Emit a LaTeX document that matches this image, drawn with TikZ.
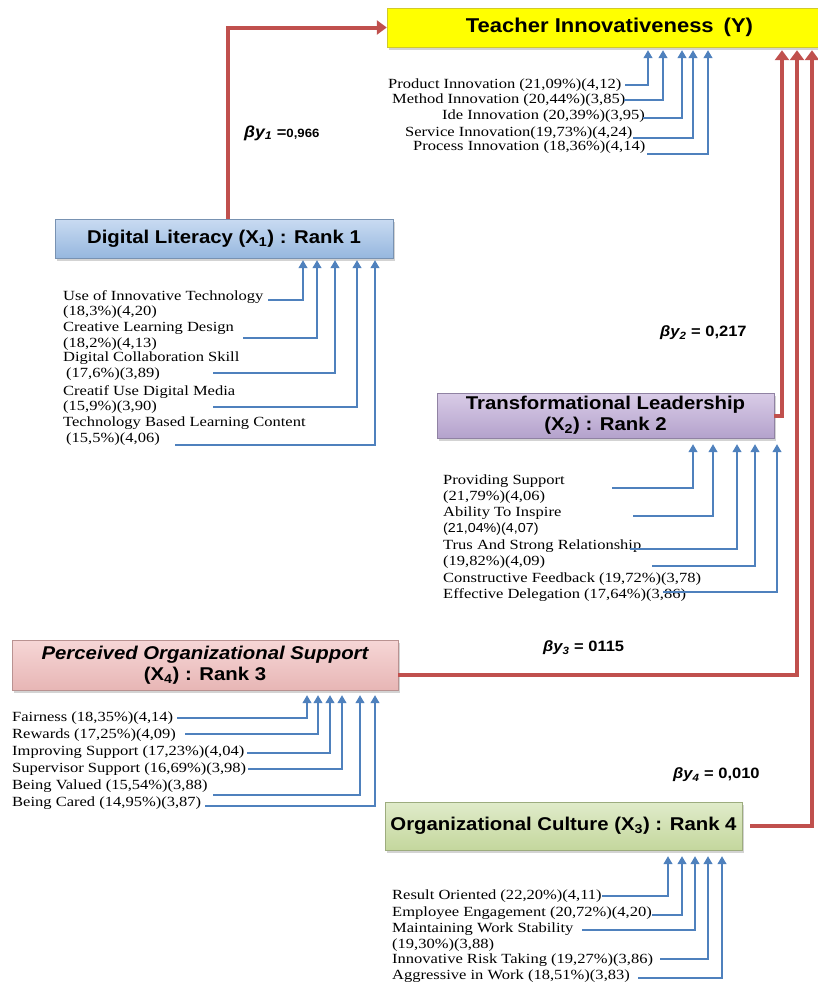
\documentclass[tikz,border=0pt]{standalone}
\usepackage{fontspec}
\setmainfont{Liberation Serif}[FakeStretch=1.18]
\setsansfont{Liberation Sans}[FakeStretch=1.1]
\usetikzlibrary{arrows.meta,shadows}

\definecolor{pathred}{RGB}{192,80,77}
\definecolor{indblue}{RGB}{79,129,189}
\definecolor{dltop}{RGB}{201,219,242}
\definecolor{dlbot}{RGB}{150,183,222}
\definecolor{tltop}{RGB}{217,204,231}
\definecolor{tlbot}{RGB}{180,162,204}
\definecolor{postop}{RGB}{246,214,214}
\definecolor{posbot}{RGB}{231,182,181}
\definecolor{octop}{RGB}{224,235,202}
\definecolor{ocbot}{RGB}{196,215,157}

\newcommand{\indfont}{\rmfamily\fontsize{14}{15.6}\selectfont}
\newcommand{\varfont}{\sffamily\bfseries\fontsize{18.5}{21}\selectfont}

\begin{document}
\begin{tikzpicture}[x=1pt,y=-1pt,
  var/.style 2 args={draw=#2!80!black, line width=0.4pt, top color=#1,
    bottom color=#2, inner sep=0pt, align=center, font=\varfont,
    drop shadow={opacity=0.35, shadow xshift=2pt, shadow yshift=-3pt}},
  indtext/.style={anchor=north west, inner sep=0pt, align=left, font=\indfont},
  effect/.style={pathred, line width=4pt, -{Triangle[width=14pt,length=10pt]}},
  loading/.style={indblue, line width=1.2pt, -{Triangle[width=9pt,length=8pt]}},
  coef/.style={anchor=west, inner sep=0pt, font=\sffamily\bfseries\fontsize{15}{18}\selectfont}]
\useasboundingbox (0,0) rectangle (817,983);

% The variables
\node[var={yellow}{yellow}, minimum width=445pt, minimum height=39pt] (Y)
  at (609.5,27.5) {\fontsize{20}{24}\selectfont Teacher Innovativeness\enspace(Y)};
\node[var={dltop}{dlbot}, minimum width=338pt, minimum height=39pt] (DL)
  at (224,238.5) {Digital Literacy (X\textsubscript{1}) : Rank 1};
\node[var={tltop}{tlbot}, minimum width=337pt, minimum height=45pt] (TL)
  at (605.5,415.5) {Transformational Leadership\\(X\textsubscript{2}) : Rank 2};
\node[var={postop}{posbot}, minimum width=386pt, minimum height=50pt] (POS)
  at (205,665) {{\itshape Perceived Organizational Support}\\(X\textsubscript{4}) : Rank 3};
\node[var={octop}{ocbot}, minimum width=357pt, minimum height=48pt] (OC)
  at (563.5,826) {Organizational Culture (X\textsubscript{3}) : Rank 4};

% Path coefficients
\node[coef] (b1) at (244,133) {{\fontsize{16}{18}\selectfont\itshape βy\textsubscript{1}} =\fontsize{12}{14}\selectfont 0,966};
\node[coef] (b2) at (660,333) {{\itshape βy\textsubscript{2}} = 0,217};
\node[coef] (b3) at (543,648) {{\itshape βy\textsubscript{3}} = 0115};
\node[coef] (b4) at (673,775) {{\itshape βy\textsubscript{4}} = 0,010};

% Paths into Teacher Innovativeness
\draw[effect] ([xshift=4pt]DL.north) |- (Y.west);
\draw[effect] (TL.east) -| ([yshift=-3pt]782,0 |- Y.south);
\draw[effect] ([yshift=-10pt]POS.east) -| ([yshift=-3pt]797,0 |- Y.south);
\draw[effect] ([xshift=8pt]OC.east) -| ([yshift=-3pt]812,0 |- Y.south);

% Indicators of Y
\node[indtext] (y1) at (388,79) {Product Innovation (21,09\%)(4,12)};
\node[indtext] (y2) at (392,94) {Method Innovation (20,44\%)(3,85)};
\node[indtext] (y3) at (442,110) {Ide Innovation (20,39\%)(3,95)};
\node[indtext] (y4) at (405,127) {Service Innovation(19,73\%)(4,24)};
\node[indtext] (y5) at (413,141) {Process Innovation (18,36\%)(4,14)};
\coordinate (y1s) at (625,85);
\coordinate (y2s) at (624,100);
\coordinate (y3s) at (643,118);
\coordinate (y4s) at (633,138);
\coordinate (y5s) at (647,154);
\draw[loading] (y1s) -| ([yshift=-3pt]648,0 |- Y.south);
\draw[loading] (y2s) -| ([yshift=-3pt]663,0 |- Y.south);
\draw[loading] (y3s) -| ([yshift=-3pt]682,0 |- Y.south);
\draw[loading] (y4s) -| ([yshift=-3pt]693,0 |- Y.south);
\draw[loading] (y5s) -| ([yshift=-3pt]708,0 |- Y.south);

% Indicators of Digital Literacy
\node[indtext] (d1) at (63,290) {Use of Innovative Technology\\(18,3\%)(4,20)};
\node[indtext] (d2) at (63,322) {Creative Learning Design\\(18,2\%)(4,13)};
\node[indtext] (d3) at (63,352) {Digital Collaboration Skill\\\hspace*{3pt}(17,6\%)(3,89)};
\node[indtext] (d4) at (63,385) {Creatif Use Digital Media\\(15,9\%)(3,90)};
\node[indtext] (d5) at (63,417) {Technology Based Learning Content\\\hspace*{3pt}(15,5\%)(4,06)};
\coordinate (d1s) at (268,300);
\coordinate (d2s) at (243,338);
\coordinate (d3s) at (213,373);
\coordinate (d4s) at (213,407);
\coordinate (d5s) at (175,445);
\draw[loading] (d1s) -| ([yshift=-2pt]303,0 |- DL.south);
\draw[loading] (d2s) -| ([yshift=-2pt]317,0 |- DL.south);
\draw[loading] (d3s) -| ([yshift=-2pt]335,0 |- DL.south);
\draw[loading] (d4s) -| ([yshift=-2pt]357,0 |- DL.south);
\draw[loading] (d5s) -| ([yshift=-2pt]375,0 |- DL.south);

% Indicators of Transformational Leadership
\node[indtext] (t1) at (443,475) {Providing Support\\(21,79\%)(4,06)};
\node[indtext] (t2) at (443,507) {Ability To Inspire\\{\sffamily\fontsize{13}{15.6}\selectfont(21,04\%)(4,07)}};
\node[indtext] (t3) at (443,540) {Trus And Strong Relationship\\(19,82\%)(4,09)};
\node[indtext] (t4) at (443,573) {Constructive Feedback (19,72\%)(3,78)};
\node[indtext] (t5) at (443,588) {Effective Delegation (17,64\%)(3,86)};
\coordinate (t1s) at (612,488);
\coordinate (t2s) at (633,516);
\coordinate (t3s) at (630,549);
\coordinate (t4s) at (652,566);
\coordinate (t5s) at (663,592);
\draw[loading] (t1s) -| ([yshift=-6pt]693,0 |- TL.south);
\draw[loading] (t2s) -| ([yshift=-6pt]713,0 |- TL.south);
\draw[loading] (t3s) -| ([yshift=-6pt]737,0 |- TL.south);
\draw[loading] (t4s) -| ([yshift=-6pt]755,0 |- TL.south);
\draw[loading] (t5s) -| ([yshift=-6pt]777,0 |- TL.south);

% Indicators of Perceived Organizational Support
\node[indtext] (p1) at (12,712) {Fairness (18,35\%)(4,14)};
\node[indtext] (p2) at (12,729) {Rewards (17,25\%)(4,09)};
\node[indtext] (p3) at (12,746) {Improving Support (17,23\%)(4,04)};
\node[indtext] (p4) at (12,763) {Supervisor Support (16,69\%)(3,98)};
\node[indtext] (p5) at (12,780) {Being Valued (15,54\%)(3,88)};
\node[indtext] (p6) at (12,797) {Being Cared (14,95\%)(3,87)};
\coordinate (p1s) at (177,718);
\coordinate (p2s) at (185,734);
\coordinate (p3s) at (247,753);
\coordinate (p4s) at (248,769);
\coordinate (p5s) at (213,795);
\coordinate (p6s) at (205,806);
\draw[loading] (p1s) -| ([yshift=-5pt]307,0 |- POS.south);
\draw[loading] (p2s) -| ([yshift=-5pt]318,0 |- POS.south);
\draw[loading] (p3s) -| ([yshift=-5pt]330,0 |- POS.south);
\draw[loading] (p4s) -| ([yshift=-5pt]342,0 |- POS.south);
\draw[loading] (p5s) -| ([yshift=-5pt]360,0 |- POS.south);
\draw[loading] (p6s) -| ([yshift=-5pt]375,0 |- POS.south);

% Indicators of Organizational Culture
\node[indtext] (o1) at (392,890) {Result Oriented (22,20\%)(4,11)};
\node[indtext] (o2) at (392,907) {Employee Engagement (20,72\%)(4,20)};
\node[indtext] (o3) at (392,923) {Maintaining Work Stability\\(19,30\%)(3,88)};
\node[indtext] (o4) at (392,954) {Innovative Risk Taking (19,27\%)(3,86)};
\node[indtext] (o5) at (392,970) {Aggressive in Work (18,51\%)(3,83)};
\coordinate (o1s) at (602,896);
\coordinate (o2s) at (652,915);
\coordinate (o3s) at (582,930);
\coordinate (o4s) at (660,959);
\coordinate (o5s) at (638,978);
\draw[loading] (o1s) -| ([yshift=-6pt]668,0 |- OC.south);
\draw[loading] (o2s) -| ([yshift=-6pt]682,0 |- OC.south);
\draw[loading] (o3s) -| ([yshift=-6pt]695,0 |- OC.south);
\draw[loading] (o4s) -| ([yshift=-6pt]708,0 |- OC.south);
\draw[loading] (o5s) -| ([yshift=-6pt]722,0 |- OC.south);

\end{tikzpicture}
\end{document}
